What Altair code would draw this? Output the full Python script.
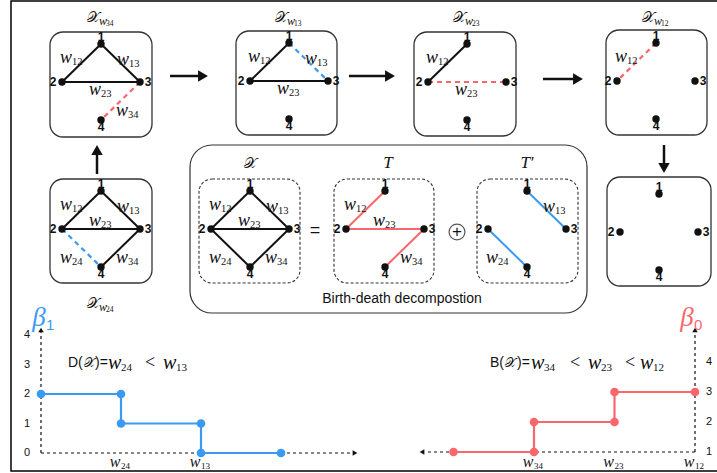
import altair as alt
import pandas as pd

W, H = 717, 473
RED = "#F8676B"
BLUE = "#3A9AF2"
INK = "#111111"
BOX = "#333333"
SERIF = "Liberation Serif"
SANS = "Liberation Sans"
SCRIPT_X = "\U0001D4B3"  # calligraphic X

# ---------------------------------------------------------------- graph data
NODE_IDS = ["1", "2", "3", "4"]

# filtration snapshots and decomposition panels
PANELS = ["w34", "w13", "w23", "w12", "w24", "empty", "X", "T", "Tp"]

# edges drawn in each panel: (u, v, style)
PANEL_EDGES = {
    "w34": [("1", "2", "k"), ("1", "3", "k"), ("2", "3", "k"), ("3", "4", "r--")],
    "w13": [("1", "2", "k"), ("2", "3", "k"), ("1", "3", "b--")],
    "w23": [("1", "2", "k"), ("2", "3", "r--")],
    "w12": [("1", "2", "r--")],
    "w24": [("1", "2", "k"), ("1", "3", "k"), ("2", "3", "k"), ("3", "4", "k"), ("2", "4", "b--")],
    "empty": [],
    "X": [("1", "2", "k"), ("1", "3", "k"), ("2", "3", "k"), ("2", "4", "k"), ("3", "4", "k")],
    "T": [("1", "2", "r"), ("2", "3", "r"), ("3", "4", "r")],
    "Tp": [("1", "3", "b"), ("2", "4", "b")],
}
W23_ABOVE = ["w24", "X", "T"]

# persistence step curves
BETA1_STEP = [0, 1, 1, 2, 2, 3]
BETA1_VAL = [2, 2, 1, 1, 0, 0]
BETA1_TICKS = [0, 1, 2, 3, 4]
BETA1_XLABELS = [(1, "24"), (2, "13")]

BETA0_STEP = [3, 2, 2, 1, 1, 0]   # counted leftwards from the vertical axis
BETA0_VAL = [1, 1, 2, 2, 3, 3]
BETA0_TICKS = [1, 2, 3, 4]
BETA0_XLABELS = [(2, "34"), (1, "23"), (0, "12")]

# ---------------------------------------------------------------- layout
NODE_DX = [0, -39, 39, 0]
NODE_DY = [-38, 0, 0, 38]
PANEL_CX = [101, 289, 467, 656, 101, 659, 250, 385, 527]
PANEL_CY = [82, 81, 82, 81, 229, 232, 229, 229, 229]
PANEL_BOX = [(50, 32, 152, 137), (236, 31, 337, 135), (414, 32, 516, 136),
             (606, 30, 707, 135), (50, 179, 152, 283), (607, 177, 711, 286),
             (199, 179, 300, 283), (334, 179, 434, 283), (477, 179, 578, 283)]
LABEL_OFF = {"12": (-29, -24), "13": (28, -22), "24": (-29, 29), "34": (27, 29)}
STYLE_COLOR = {"k": INK, "r": RED, "b": BLUE}

XS = alt.Scale(domain=[0, W], nice=False, zero=False)
YS = alt.Scale(domain=[0, H], nice=False, zero=False, reverse=True)


def enc(**extra):
    e = dict(x=alt.X("x:Q", scale=XS, axis=None), y=alt.Y("y:Q", scale=YS, axis=None))
    e.update(extra)
    return e


def text_layer(rows, **mark):
    df = pd.DataFrame(rows, columns=["x", "y", "t"])
    base = dict(baseline="middle", align="center", color=INK)
    base.update(mark)
    return alt.Chart(df).mark_text(**base).encode(**enc(text="t:N"))


def seg_layer(rows, **mark):
    df = pd.DataFrame(rows, columns=["x", "y", "x2", "y2", "c"])
    return alt.Chart(df).mark_rule(**mark).encode(
        **enc(x2="x2:Q", y2="y2:Q", color=alt.Color("c:N", scale=None)))


def rect_layer(rows, **mark):
    df = pd.DataFrame(rows, columns=["x", "y", "x2", "y2"])
    return alt.Chart(df).mark_rect(**mark).encode(**enc(x2="x2:Q", y2="y2:Q"))


def point_layer(rows, **mark):
    df = pd.DataFrame(rows, columns=["x", "y", "c", "s"])
    return alt.Chart(df).mark_point(**mark).encode(
        **enc(color=alt.Color("c:N", scale=None), shape=alt.Shape("s:N", scale=None)))


def node_pos(p, n):
    i = PANELS.index(p)
    k = NODE_IDS.index(n)
    return PANEL_CX[i] + NODE_DX[k], PANEL_CY[i] + NODE_DY[k]


layers = []

# outer frame and decomposition box
layers.append(rect_layer([(11, 1, 730, 471)], fill="white", stroke="#000", strokeWidth=1.5, clip=True))
layers.append(rect_layer([(190, 145, 587, 313)], fill="white", stroke=BOX, strokeWidth=1.2, cornerRadius=22))

# graph panels
solid_boxes = [PANEL_BOX[i] for i, p in enumerate(PANELS) if p not in ("X", "T", "Tp")]
dashed_boxes = [PANEL_BOX[i] for i, p in enumerate(PANELS) if p in ("X", "T", "Tp")]
layers.append(rect_layer(solid_boxes, fill="white", stroke=BOX, strokeWidth=1.3, cornerRadius=13))
layers.append(rect_layer(dashed_boxes, fill="white", stroke=BOX, strokeWidth=1.1,
                         cornerRadius=13, strokeDash=[3, 2]))

solid_edges, dashed_edges, w_labels, w_subs = [], [], [], []
for p in PANELS:
    for u, v, style in PANEL_EDGES[p]:
        (x1, y1), (x2, y2) = node_pos(p, u), node_pos(p, v)
        row = (x1, y1, x2, y2, STYLE_COLOR[style[0]])
        (dashed_edges if style.endswith("--") else solid_edges).append(row)
        key = u + v
        i = PANELS.index(p)
        if key == "23":
            off = (0, -8) if p in W23_ABOVE else (0, 8)
        else:
            off = LABEL_OFF[key]
        lx, ly = PANEL_CX[i] + off[0], PANEL_CY[i] + off[1]
        w_labels.append((lx - 6, ly, "w"))
        w_subs.append((lx, ly + 4, key))

layers.append(seg_layer(solid_edges, strokeWidth=2))
layers.append(seg_layer(dashed_edges, strokeWidth=2.2, strokeDash=[5, 4]))

nodes, digits = [], []
DIGIT_OFF = {"1": (0, -7), "2": (-9, 0), "3": (8, 0), "4": (0, 7)}
for p in PANELS:
    for n in NODE_IDS:
        x, y = node_pos(p, n)
        nodes.append((x, y, INK, "circle"))
        digits.append((x + DIGIT_OFF[n][0], y + DIGIT_OFF[n][1], n))
layers.append(text_layer(digits, font=SANS, fontSize=12, fontWeight="bold"))
layers.append(point_layer(nodes, filled=True, size=55, opacity=1))
layers.append(text_layer(w_labels, font=SERIF, fontSize=18, fontStyle="italic"))
layers.append(text_layer(w_subs, font=SERIF, fontSize=10.5, align="left"))

# panel titles
title_x, title_w, title_d = [], [], []
for p, ty in [("w34", 17), ("w13", 17), ("w23", 17), ("w12", 17), ("w24", 303)]:
    i = PANELS.index(p)
    cx = PANEL_CX[i]
    title_x.append((cx - 8, ty, SCRIPT_X))
    title_w.append((cx - 2, ty + 4, "w"))
    title_d.append((cx + 5, ty + 7, p[1:]))
title_x += [(250, 163, SCRIPT_X)]
layers.append(text_layer(title_x, font="DejaVu Serif", fontSize=15))
layers.append(text_layer(title_w, font=SERIF, fontSize=12, fontStyle="italic", align="left"))
layers.append(text_layer(title_d, font=SERIF, fontSize=7.5, align="left"))
layers.append(text_layer([(388, 163, "T"), (527, 163, "T\u2032")], font=SERIF, fontSize=17, fontStyle="italic"))
layers.append(text_layer([(315, 231, "=")], font=SANS, fontSize=18))
layers.append(point_layer([(457, 232, INK, "circle")], filled=False, size=250, strokeWidth=1.2))
layers.append(text_layer([(457, 232, "+")], font=SANS, fontSize=17))
layers.append(text_layer([(402, 299, "Birth-death decompostion")], font=SANS, fontSize=14))

# arrows between snapshots
arrow_shafts = [(170, 76, 200, 76, INK), (349, 76, 387, 76, INK), (543, 79, 575, 79, INK),
                (97, 174, 97, 152, INK), (664, 145, 664, 166, INK)]
arrow_heads = [(203, 76, INK, "triangle-right"), (390, 76, INK, "triangle-right"),
               (578, 79, INK, "triangle-right"), (97, 150, INK, "triangle-up"),
               (664, 168, INK, "triangle-down")]
layers.append(seg_layer(arrow_shafts, strokeWidth=2.5))
layers.append(point_layer(arrow_heads, filled=True, size=130, opacity=1))

# ---------------------------------------------------------------- step plots
L_X0, L_Y0, L_DX, L_DY = 41, 453, 80, 29.5
R_X0, R_Y0, R_DX, R_DY = 695, 452, -80.5, 30

axes = [(L_X0, L_Y0, L_X0, 332, INK), (L_X0, L_Y0, 352, L_Y0, INK),
        (R_X0, R_Y0, R_X0, 332, INK), (R_X0, R_Y0, 425, R_Y0, INK)]
axis_heads = [(L_X0, 330, INK, "triangle-up"), (355, L_Y0, INK, "triangle-right"),
              (R_X0, 330, INK, "triangle-up"), (422, R_Y0, INK, "triangle-left")]
layers.append(seg_layer(axes, strokeWidth=1.2, strokeDash=[3, 3]))
layers.append(point_layer(axis_heads, filled=True, size=30, opacity=1))

b1 = pd.DataFrame({"x": [L_X0 + L_DX * s for s in BETA1_STEP],
                   "y": [L_Y0 - L_DY * v for v in BETA1_VAL],
                   "o": list(range(len(BETA1_STEP)))})
b0 = pd.DataFrame({"x": [R_X0 + R_DX * s for s in BETA0_STEP],
                   "y": [R_Y0 - R_DY * (v - 1) for v in BETA0_VAL],
                   "o": list(range(len(BETA0_STEP)))})
for df, col in [(b1, BLUE), (b0, RED)]:
    layers.append(alt.Chart(df).mark_line(color=col, strokeWidth=2.2).encode(**enc(order="o:Q")))
    layers.append(alt.Chart(df).mark_point(color=col, filled=True, size=75, opacity=1).encode(**enc()))

layers.append(text_layer([(27, L_Y0 - L_DY * v, str(v)) for v in BETA1_TICKS], font=SANS, fontSize=11))
layers.append(text_layer([(709, R_Y0 - R_DY * (v - 1), str(v)) for v in BETA0_TICKS], font=SANS, fontSize=11))

xw, xd = [], []
for s, d in BETA1_XLABELS:
    x = L_X0 + L_DX * s
    xw.append((x - 6, 462, "w"))
    xd.append((x, 466, d))
for s, d in BETA0_XLABELS:
    x = R_X0 + R_DX * s
    xw.append((x - 6, 462, "w"))
    xd.append((x, 466, d))
layers.append(text_layer(xw, font=SERIF, fontSize=16, fontStyle="italic"))
layers.append(text_layer(xd, font=SERIF, fontSize=9, align="left"))

# Betti number symbols
layers.append(text_layer([(39, 318, "\u03B2")], font=SERIF, fontSize=27, fontStyle="italic", color=BLUE))
layers.append(text_layer([(46, 325, "1")], font=SANS, fontSize=15, color=BLUE, align="left"))
layers.append(text_layer([(687, 318, "\u03B2")], font=SERIF, fontSize=27, fontStyle="italic", color=RED))
layers.append(text_layer([(694, 325, "0")], font=SANS, fontSize=15, color=RED, align="left"))

# decomposition formulas
formula_sans = [(68, 363, "D("), (95, 363, ")="), (490, 363, "B("), (517, 363, ")=")]
formula_x = [(89, 363, SCRIPT_X), (510, 363, SCRIPT_X)]
formula_w = [(108, 363, "w"), (163, 363, "w"), (531, 363, "w"), (588, 363, "w"), (640, 363, "w")]
formula_d = [(121, 368, "24"), (176, 368, "13"), (544, 368, "34"), (601, 368, "23"), (653, 368, "12")]
formula_lt = [(150, 363, "<"), (575, 363, "<"), (630, 363, "<")]
layers.append(text_layer(formula_sans, font=SANS, fontSize=14, align="left"))
layers.append(text_layer(formula_x, font="DejaVu Serif", fontSize=13))
layers.append(text_layer(formula_w, font=SERIF, fontSize=20, fontStyle="italic", align="left"))
layers.append(text_layer(formula_d, font=SERIF, fontSize=11, align="left"))
layers.append(text_layer(formula_lt, font=SERIF, fontSize=18))

chart = alt.layer(*layers).properties(width=W, height=H, padding=0).configure_view(stroke=None)
chart.save("out.html", embed_options={"renderer": "svg", "actions": False})
